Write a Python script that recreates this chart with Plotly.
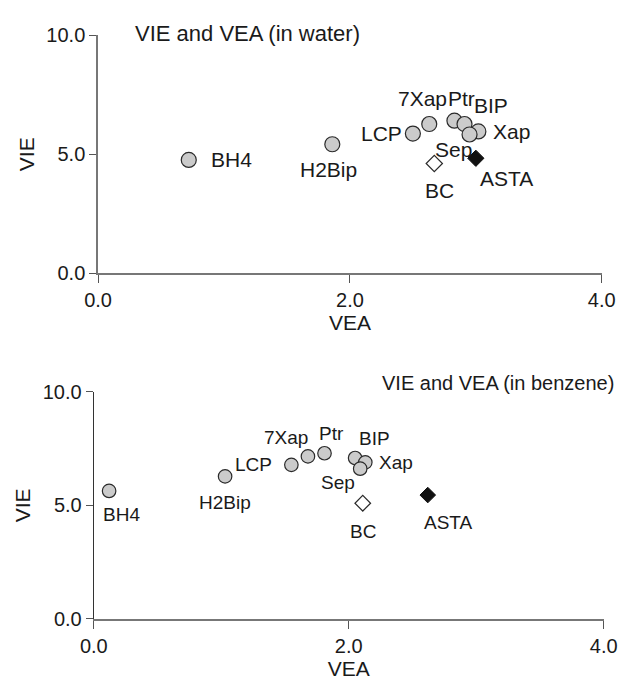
import plotly.graph_objects as go

# ---- data -------------------------------------------------------------
compounds = ["BH4", "H2Bip", "LCP", "7Xap", "Ptr", "BIP", "Xap", "Sep", "BC", "ASTA"]
kinds = ["c", "c", "c", "c", "c", "c", "c", "c", "open", "filled"]

vea_water = [0.72, 1.86, 2.50, 2.63, 2.83, 2.91, 3.02, 2.95, 2.67, 3.00]
vie_water = [4.76, 5.42, 5.87, 6.27, 6.41, 6.27, 5.96, 5.83, 4.61, 4.83]

vea_benzene = [0.12, 1.03, 1.55, 1.68, 1.81, 2.05, 2.13, 2.09, 2.11, 2.62]
vie_benzene = [5.63, 6.27, 6.78, 7.15, 7.29, 7.08, 6.89, 6.61, 5.09, 5.45]

x_ticks = [0, 2, 4]
y_ticks = [0, 5, 10]

# label offsets (px; dx to the right, dy upwards)
off_water = {
    "BH4": (43, 0), "H2Bip": (-4, -25), "LCP": (-31, 0), "7Xap": (-7, 26),
    "Ptr": (7, 22), "BIP": (26, 19), "Xap": (33, 0), "Sep": (-16, -15),
    "BC": (5, -27), "ASTA": (31, -20),
}
off_benz = {
    "BH4": (12, -24), "H2Bip": (0, -26), "LCP": (-38, 0), "7Xap": (-22, 19),
    "Ptr": (7, 20), "BIP": (19, 20), "Xap": (31, 0), "Sep": (-22, -14),
    "BC": (0, -28), "ASTA": (21, -27),
}

FONT = "Liberation Sans, Arial, Helvetica, sans-serif"
W, H = 632, 686


def px(v):   # pixel -> paper x
    return v / W


def py(v):   # pixel -> paper y
    return 1 - v / H


fig = go.Figure()


def add_panel(xs, ys, xa, ya, circ_size, dia_size):
    groups = {
        "c": dict(symbol="circle", color="#cbcbcb", line=dict(color="#2a2a2a", width=1.2), size=circ_size),
        "open": dict(symbol="diamond", color="white", line=dict(color="#2a2a2a", width=1.2), size=dia_size),
        "filled": dict(symbol="diamond", color="#111111", line=dict(color="#111111", width=1), size=dia_size),
    }
    for k, mk in groups.items():
        gx = [x for x, kk in zip(xs, kinds) if kk == k]
        gy = [y for y, kk in zip(ys, kinds) if kk == k]
        fig.add_trace(go.Scatter(x=gx, y=gy, mode="markers", marker=mk,
                                 xaxis=xa, yaxis=ya, showlegend=False,
                                 cliponaxis=False, hoverinfo="skip"))


add_panel(vea_water, vie_water, "x", "y", 15, 12.5)
add_panel(vea_benzene, vie_benzene, "x2", "y2", 13.5, 12)

annotations = []
for name, x, y in zip(compounds, vea_water, vie_water):
    dx, dy = off_water[name]
    annotations.append(dict(x=x, y=y, xref="x", yref="y", text=name, showarrow=False,
                            xshift=dx, yshift=dy, font=dict(size=21, color="#1a1a1a", family=FONT)))
for name, x, y in zip(compounds, vea_benzene, vie_benzene):
    dx, dy = off_benz[name]
    annotations.append(dict(x=x, y=y, xref="x2", yref="y2", text=name, showarrow=False,
                            xshift=dx, yshift=dy, font=dict(size=19, color="#1a1a1a", family=FONT)))

annotations.append(dict(x=px(124), y=py(23), xref="paper", yref="paper", xanchor="left",
                        yanchor="middle", text="VIE and VEA (in water)", showarrow=False,
                        font=dict(size=22, color="#1a1a1a", family=FONT)))
annotations.append(dict(x=px(630), y=py(384), xref="paper", yref="paper", xanchor="right",
                        yanchor="middle", text="VIE and VEA (in benzene)", showarrow=False,
                        font=dict(size=20, color="#1a1a1a", family=FONT)))

tickfont = dict(size=20, color="#1a1a1a", family=FONT)
titlefont = dict(size=21, color="#1a1a1a", family=FONT)


def xax(domain, anchor, lc):
    return dict(domain=domain, anchor=anchor, range=[0, 4], tickvals=x_ticks, tickformat=".1f",
                ticks="outside", ticklen=8, tickcolor="#555", tickwidth=1.2,
                showline=True, linecolor=lc, linewidth=1.6, showgrid=False, zeroline=False,
                tickfont=tickfont, title=dict(text="VEA", font=titlefont, standoff=4))


def yax(domain, anchor, lc, lw):
    return dict(domain=domain, anchor=anchor, range=[0, 10], tickvals=y_ticks, tickformat=".1f",
                ticks="outside", ticklen=7, tickcolor="#555", tickwidth=1.2,
                showline=True, linecolor=lc, linewidth=lw, showgrid=False, zeroline=False,
                tickfont=tickfont, title=dict(text="VIE", font=titlefont, standoff=6))


fig.update_layout(
    width=W, height=H, margin=dict(l=0, r=0, t=0, b=0),
    paper_bgcolor="white", plot_bgcolor="white",
    xaxis=xax([px(88), px(615)], "y", "#777"),
    yaxis=yax([py(271), py(25)], "x", "#777", 1.6),
    xaxis2=xax([px(83.5), px(617)], "y2", "#777"),
    yaxis2=yax([py(628), py(393.3)], "x2", "#333", 1.2),
    annotations=annotations,
    showlegend=False,
)

# remove the default page margin so the 632x686 figure fills the window exactly
fig.write_html("out.html", config={"displayModeBar": False},
               post_script="document.body.style.margin='0px';")
